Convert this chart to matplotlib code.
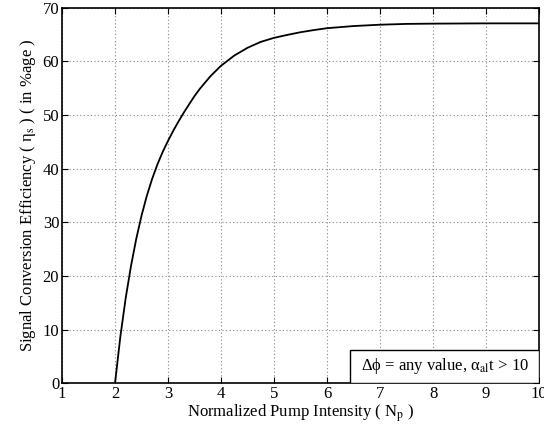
import matplotlib
matplotlib.use("Agg")
from matplotlib import pyplot as plt
from matplotlib.patches import Rectangle

# values
pump = [2.0, 2.1, 2.2, 2.3, 2.4, 2.5, 2.6, 2.7, 2.8, 2.9, 3.0, 3.1, 3.2, 3.3,
        3.4, 3.5, 3.6, 3.8, 4.0, 4.25, 4.5, 4.75, 5.0, 5.25, 5.5, 5.75, 6.0,
        6.5, 7.0, 7.5, 8.0, 9.0, 10.0]
efficiency = [0.0, 8.65, 15.8, 21.8, 26.9, 31.25, 34.95, 38.1, 40.8, 43.15, 45.2,
              47.1, 48.85, 50.5, 52.05, 53.55, 54.9, 57.25, 59.2, 61.1, 62.55,
              63.65, 64.4, 64.95, 65.45, 65.85, 66.2, 66.6, 66.85, 67.0, 67.05,
              67.1, 67.1]

xticks = list(range(1, 11))
yticks = list(range(0, 71, 10))

plt.rcParams['font.family'] = ['Liberation Serif', 'DejaVu Serif']
plt.rcParams['mathtext.fontset'] = 'stix'
plt.rcParams['font.size'] = 12

fig = plt.figure(figsize=(5.44, 4.34), dpi=100)
ax = fig.add_axes([0.114, 0.117, 0.877, 0.865])

ax.plot(pump, efficiency, color='black', linewidth=1.3)

ax.set_xlim(1, 10)
ax.set_ylim(0, 70)
ax.set_xticks(xticks)
ax.set_yticks(yticks)
ax.grid(True, linestyle=(0, (1, 2.2)), color='#888888', linewidth=0.8)
ax.tick_params(direction='in', top=True, right=True, length=4, pad=2, labelsize=12)
for s in ax.spines.values():
    s.set_linewidth(1.2)

ax.set_xlabel(r'Normalized Pump Intensity ( N$_{\mathrm{p}}$ )', labelpad=0)
ax.set_ylabel(r'Signal Conversion Efficiency ( η$_{\mathrm{s}}$ ) ( in %age )', labelpad=3)

# annotation box in the lower right corner
box = Rectangle((0.604, 0.0), 0.396, 0.088, transform=ax.transAxes,
                facecolor='white', edgecolor='black', linewidth=1.0, zorder=3)
ax.add_patch(box)
ax.text(0.802, 0.046, r'Δϕ = any value, α$_{\mathrm{al}}$t > 10',
        transform=ax.transAxes, ha='center', va='center', zorder=4)

fig.savefig('out.png', dpi=100)
